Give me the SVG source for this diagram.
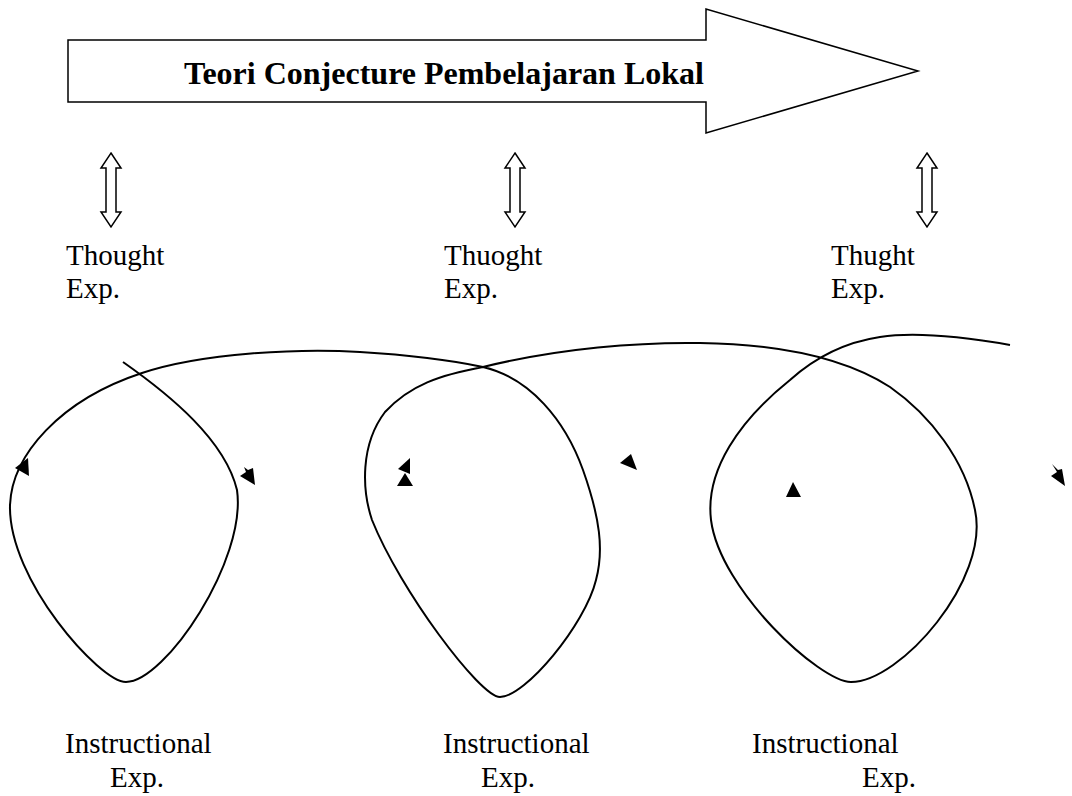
<svg xmlns="http://www.w3.org/2000/svg" width="1072" height="796" viewBox="0 0 1072 796">
<style>
.t{font-family:"Liberation Serif","Times New Roman",serif;font-size:29px;fill:#000}
.title{font-family:"Liberation Serif","Times New Roman",serif;font-size:32px;font-weight:bold;fill:#000}
.ol{fill:#fff;stroke:#000;stroke-width:1.5}
.ln{fill:none;stroke:#000;stroke-width:2}
.ah{fill:#000;stroke:none}
</style>
<defs>
<path id="dbl" d="M0,-37 L10,-22 L5,-22 L5,22 L10,22 L0,37 L-10,22 L-5,22 L-5,-22 L-10,-22 Z"/>
</defs>
<g id="title-arrow">
<path class="ol" d="M68,40 L706,40 L706,9 L918,71 L706,133 L706,102 L68,102 Z"/>
<text class="title" x="184" y="84">Teori Conjecture Pembelajaran Lokal</text>
</g>
<g id="thought1">
<use href="#dbl" class="ol" x="111" y="190"/>
<text class="t" x="66" y="265">Thought</text>
<text class="t" x="66" y="298">Exp.</text>
</g>
<g id="thought2">
<use href="#dbl" class="ol" x="515" y="190"/>
<text class="t" x="444" y="265">Thuoght</text>
<text class="t" x="444" y="298">Exp.</text>
</g>
<g id="thought3">
<use href="#dbl" class="ol" x="927" y="190"/>
<text class="t" x="831" y="265">Thught</text>
<text class="t" x="831" y="298">Exp.</text>
</g>
<g id="instr1">
<text class="t" x="65" y="753">Instructional</text>
<text class="t" x="110" y="787">Exp.</text>
</g>
<g id="instr2">
<text class="t" x="443" y="753">Instructional</text>
<text class="t" x="481" y="787">Exp.</text>
</g>
<g id="instr3">
<text class="t" x="752" y="753">Instructional</text>
<text class="t" x="862" y="787">Exp.</text>
</g>
<g id="connectors">
<path class="ln" d="M123,362 C170,395 225,440 237,490 C247,560 165,682 126,682 C100,682 8,580 10,505 C12,455 60,400 142,373 C202,353 300,348 360,352 C410,355 450,360 483,367 C530,378 565,420 583,470 C600,518 604,550 596,580 C585,625 525,697 500,697 C480,697 400,590 372,520 C362,490 360,445 385,412 C410,385 440,375 483,367 C560,348 640,342 700,343 C770,344 840,355 890,387 C930,415 965,460 975,510 C990,580 900,682 851,682 C820,682 720,590 711,520 C705,470 740,420 790,380 C810,362 840,343 880,337 C920,331 970,338 1010,345"/>
<polygon class="ah" points="15,468 28,458 29,476"/>
<polygon class="ah" points="240,476 246,472 244,467 248,470 253,468 255,485"/>
<polygon class="ah" points="398,469 410,458 410,474"/>
<polygon class="ah" points="405,473 397,486 413,486"/>
<polygon class="ah" points="620,463 631,454 637,470"/>
<polygon class="ah" points="793,482 786,497 801,497"/>
<polygon class="ah" points="1051,476 1057,472 1052,464 1058,470 1062,469 1065,486"/>
</g>
</svg>
